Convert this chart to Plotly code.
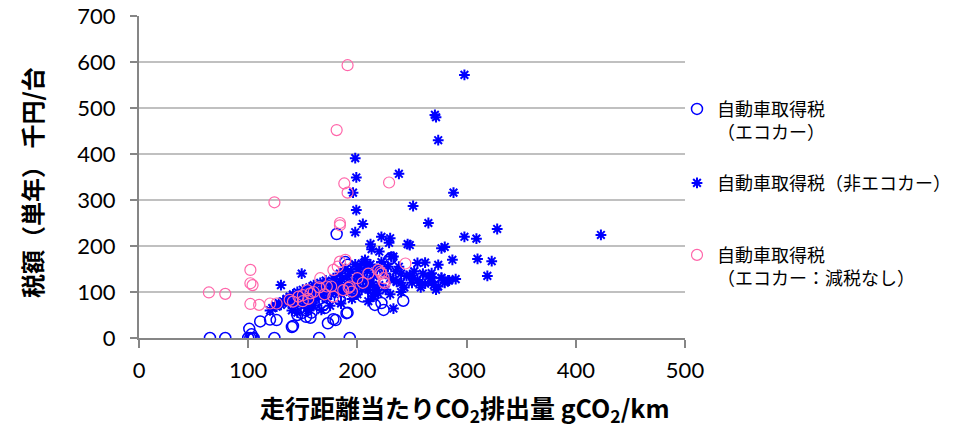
import plotly.graph_objects as go

# ---- data ----
eco_x = [65, 79, 100, 102, 104, 105, 124, 165, 193,
         101, 103, 111, 120, 126, 140, 141, 145, 149, 153, 157, 153, 160, 150, 155, 147, 158,
         173, 178, 180, 184, 190, 191, 181, 189, 191, 185, 189, 199, 205, 214, 216, 222, 224,
         229, 231, 242, 196, 170, 165, 210]
eco_y = [0, 0, 0, 0, 0, 0, 0, 0, 0,
         20, 8, 36, 40, 39, 24, 26, 50, 54, 46, 44, 60, 75, 80, 70, 65, 55,
         32, 41, 39, 83, 54, 55, 226, 165, 159, 125, 118, 100, 90, 100, 72, 76, 61,
         170, 174, 81, 105, 65, 85, 115]

non_x = [298, 271, 272, 274, 198, 199, 196, 238, 288, 251, 199, 265, 205, 198, 222, 230, 298, 309,
         423, 328, 277, 280, 274, 287, 310, 323, 319, 268, 268, 277, 284, 274,
         212, 213, 220, 229, 246, 248, 233, 231, 238, 255, 262, 248, 251, 255, 257, 265, 268,
         277, 283, 233, 236, 240, 204, 208, 205, 211, 214, 217, 233, 219, 149, 130, 120, 125,
         128, 167,
         122, 126, 130, 132, 135, 137, 138, 140, 141, 143, 144, 145, 146, 148, 150, 150, 152,
         153, 155, 156, 157, 158, 160, 160, 162, 163, 165, 166, 168, 168, 170, 171, 172, 174,
         175, 176, 178, 178, 180, 181, 183, 184, 185, 186, 188, 189, 190, 191, 193, 194, 195,
         196, 198, 199, 200, 201, 203, 205, 206, 207, 209, 210, 212, 215, 218, 220, 222, 225,
         226, 228, 230, 235, 240, 243, 245, 250, 252, 258, 260, 262, 270, 272, 280, 290,
         140, 145, 155, 160, 185, 195, 200, 210, 215, 175, 230, 240, 214]
non_y = [572, 485, 480, 430, 391, 349, 316, 357, 316, 287, 278, 250, 248, 230, 220, 217, 220, 216,
         224, 237, 195, 198, 159, 170, 172, 167, 135, 132, 141, 131, 125, 112,
         204, 193, 188, 207, 204, 202, 177, 177, 155, 163, 164, 137, 130, 126, 120, 133, 122,
         130, 125, 126, 122, 120, 162, 159, 126, 122, 115, 104, 64, 97, 140, 115, 60, 70,
         76, 61,
         65, 68, 72, 80, 85, 75, 90, 82, 95, 70, 88, 100, 78, 92, 85, 105, 72,
         96, 88, 110, 80, 100, 92, 115, 85, 105, 98, 120, 90, 110, 100, 125, 85, 105,
         115, 95, 130, 108, 100, 120, 112, 140, 95, 128, 105, 150, 118, 135, 100, 145, 125,
         110, 160, 135, 120, 150, 140, 110, 130, 170, 145, 105, 160, 135, 150, 115, 165, 140,
         105, 155, 130, 145, 140, 110, 135, 120, 145, 110, 140, 118, 115, 105, 120, 128,
         60, 55, 60, 70, 75, 85, 95, 80, 90, 70, 95, 100, 91]

nored_x = [191, 181, 188, 191, 229, 124, 184, 102, 102, 104, 64, 79, 102, 110, 120, 126, 166, 178,
           182, 146, 150, 154, 157, 138, 141, 172, 187, 193, 184, 189, 244, 221, 224, 225, 192,
           195, 176, 178, 219, 222, 224, 160, 165, 170, 150, 155, 200, 205, 210, 184]
nored_y = [593, 452, 336, 316, 338, 295, 250, 148, 119, 115, 99, 96, 74, 72, 75, 75, 130, 148,
           155, 90, 93, 104, 97, 83, 79, 112, 104, 112, 166, 170, 162, 144, 130, 119, 109,
           101, 112, 90, 148, 140, 122, 100, 110, 95, 80, 85, 130, 120, 140, 245]

x_ticks = [0, 100, 200, 300, 400, 500]
y_ticks = [0, 100, 200, 300, 400, 500, 600, 700]

names = ["自動車取得税<br>（エコカー）",
         "自動車取得税（非エコカー）",
         "自動車取得税<br>（エコカー：減税なし）"]

BLUE = "#0000FF"
PINK = "#FF66AA"

fig = go.Figure()
fig.add_trace(go.Scatter(x=eco_x, y=eco_y, mode="markers", name=names[0], legend="legend",
                         marker=dict(symbol="circle-open", size=11, color=BLUE,
                                     line=dict(width=1.5, color=BLUE))))
fig.add_trace(go.Scatter(x=non_x, y=non_y, mode="markers", name=names[1], legend="legend2",
                         marker=dict(symbol="asterisk-open", size=9, color=BLUE,
                                     line=dict(width=2, color=BLUE))))
fig.add_trace(go.Scatter(x=nored_x, y=nored_y, mode="markers", name=names[2], legend="legend3",
                         marker=dict(symbol="circle-open", size=11, color=PINK,
                                     line=dict(width=1.2, color=PINK))))

legfont = dict(family="Noto Sans CJK JP", size=18, color="#000000")


def leg(ytop_px):
    return dict(xref="container", yref="container", x=677 / 965, y=1 - ytop_px / 432,
                xanchor="left", yanchor="top", valign="top", font=legfont,
                itemwidth=30, bgcolor="rgba(0,0,0,0)")


tickfont = dict(family="Lato, Carlito, sans-serif", size=22, color="#000000")
fig.update_layout(
    width=965, height=432,
    margin=dict(l=139, r=280, t=16, b=94, autoexpand=False),
    paper_bgcolor="white", plot_bgcolor="white",
    showlegend=True,
    legend=leg(108 - 17.3),
    legend2=leg(182 - 17.3),
    legend3=leg(254 - 17.3),
    xaxis=dict(range=[0, 500], tickvals=x_ticks, showgrid=False, zeroline=False,
               showline=True, linecolor="#868686", linewidth=2,
               ticks="outside", ticklen=8, tickcolor="#868686", tickwidth=1.5,
               tickfont=tickfont, ticklabelstandoff=4, automargin=False),
    yaxis=dict(range=[0, 700], tickvals=y_ticks, showgrid=True, gridcolor="#C0C0C0",
               gridwidth=1.5, zeroline=False,
               showline=True, linecolor="#868686", linewidth=2,
               ticks="outside", ticklen=7, tickcolor="#868686", tickwidth=1.5,
               tickfont=tickfont, ticklabelstandoff=10, automargin=False),
    annotations=[
        dict(text="走行距離当たりCO<sub>2</sub>排出量 gCO<sub>2</sub>/km",
             xref="paper", yref="paper", x=(465 - 139) / 546, y=-0.22,
             xanchor="center", yanchor="middle", showarrow=False,
             font=dict(family="Noto Sans CJK JP", size=25, color="#000000", weight="bold")),
        dict(text="税額（単年） 千円/台", textangle=-90,
             xref="paper", yref="paper", x=(32 - 139) / 546, y=(338 - 183) / 322,
             xanchor="center", yanchor="middle", showarrow=False,
             font=dict(family="Noto Sans CJK JP", size=24, color="#000000", weight="bold")),
    ],
)

fig.write_html("out.html")
